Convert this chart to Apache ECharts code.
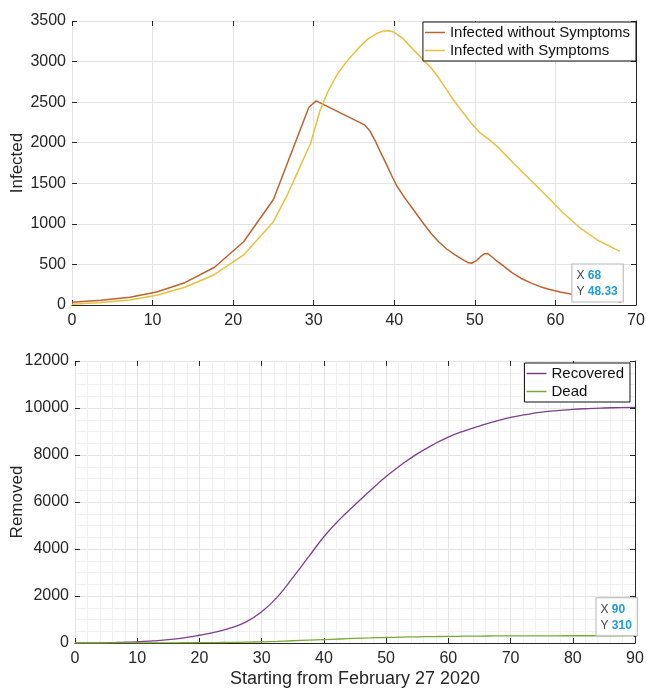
<!DOCTYPE html>
<html>
<head>
<meta charset="utf-8">
<script src="https://cdn.jsdelivr.net/npm/echarts@6/dist/echarts.min.js"></script>
<style>html,body{margin:0;padding:0;background:#fff;}#c{width:647px;height:691px;}</style>
</head>
<body>
<div id="c"></div>
<script>
// ---- Top panel data (days since Feb 27 2020) ----
const noSympDays = [0,3.6,7.2,10.5,14,17.7,21.3,25,29.4,30.3,36.3,37,37.7,38.3,39,39.7,40.3,41.3,42.4,43.5,44.5,45.5,46.5,47.5,48.5,49.1,49.6,50.1,50.7,51.2,51.6,52.1,52.7,53.3,54,54.6,55.7,57,58.1,59.3,60.6,61.7,62.7,64,65.5,67,68];
const noSympVals = [35,58,95,160,275,465,780,1300,2437,2515,2220,2140,2010,1880,1740,1590,1470,1320,1171,1020,890,780,690,620,560,525,515,540,595,632,635,595,545,500,445,400,330,270,226,190,160,138,120,100,80,62,48.33];
const sympDays = [0,3.6,7.2,10.5,14,17.6,21.3,25,26.7,28.3,29.6,30.8,31.8,32.9,34,35.4,36.6,37.9,38.7,39.4,39.9,41,42.4,43.5,44.5,45.5,46.5,47.5,48.6,49.6,50.7,51.8,52.8,53.8,54.8,56.9,59,61,63.1,65.2,68];
const sympVals = [10,30,62,120,218,370,617,1027,1350,1705,1990,2404,2640,2840,2990,3150,3270,3350,3378,3380,3365,3290,3144,3030,2930,2800,2651,2505,2363,2235,2117,2035,1952,1850,1747,1541,1335,1130,946,801,660];

// ---- Bottom panel data ----
const removedDays = [0,2.5,5,7.5,10,12.5,15,17.5,20,22.5,25,27.5,30,32.5,35,37.5,40,42.5,45,47.5,50,52.5,55,57.5,60,62.5,65,67.5,70,72.5,75,77.5,80,82.5,85,87.5,90];
const recovered = [0,5,12,28,50,90,140,220,330,460,640,900,1330,1950,2780,3650,4520,5250,5880,6500,7080,7600,8050,8430,8760,9020,9230,9430,9600,9720,9820,9890,9940,9975,10000,10018,10030];
const dead = [0,0,1,2,3,5,7,10,13,18,25,36,50,70,95,120,145,170,195,215,235,250,262,272,282,289,295,299,302,304,306,307,308,308.5,309,309.5,310];

const topXTicks = {min:0, max:70, interval:10};
const topYTicks = {min:0, max:3500, interval:500};
const botXTicks = {min:0, max:90, interval:10};
const botYTicks = {min:0, max:12000, interval:2000};

const pairs = (xs, ys) => xs.map((x,i)=>[x, ys[i]]);

const FONT = 'Liberation Sans, Arial, sans-serif';
const TXT = '#262626';
const GRID = '#e3e3e3';
const MINOR = '#f0f0f0';

function baseX(grid, t, opts) {
  return Object.assign({
    type:'value', gridIndex:grid, min:t.min, max:t.max, interval:t.interval,
    axisLine:{show:true, onZero:false, lineStyle:{color:TXT, width:1}},
    axisTick:{show:true, inside:true, length:5, lineStyle:{color:TXT}},
    axisLabel:{color:TXT, fontSize:16, fontFamily:FONT, margin:8, formatter:v=>String(v)},
    splitLine:{show:true, lineStyle:{color:GRID, width:1}}
  }, opts||{});
}
function baseY(grid, t, opts) {
  return Object.assign({
    type:'value', gridIndex:grid, min:t.min, max:t.max, interval:t.interval,
    axisLine:{show:false},
    axisTick:{show:true, inside:true, length:5, lineStyle:{color:TXT}},
    axisLabel:{color:TXT, fontSize:16, fontFamily:FONT, margin:6, formatter:v=>String(v)},
    splitLine:{show:true, lineStyle:{color:GRID, width:1}}
  }, opts||{});
}
function mirror(grid, t, pos) {
  return {
    type:'value', gridIndex:grid, min:t.min, max:t.max, interval:t.interval, position:pos,
    axisLine:{show: pos==='right', onZero:false, lineStyle:{color: TXT, width:1}},
    axisTick:{show:true, inside:true, length:5, lineStyle:{color:TXT}},
    axisLabel:{show:false}, splitLine:{show:false}
  };
}

function tip(x, y, off) {
  return {
    symbol:'circle', symbolSize:3, itemStyle:{color:'#111'},
    data:[{coord:[x,y], value:y}],
    label:{
      show:true, position:off,
      backgroundColor:'rgba(255,255,255,0.95)', borderColor:'#b8b8b8', borderWidth:1,
      padding:[3,5,2,4],
      formatter: () => '{k|X} {v|' + x + '}\n{k|Y} {v|' + y + '}',
      rich:{
        k:{color:'#444', fontSize:12, fontFamily:FONT, lineHeight:16},
        v:{color:'#1f9ce0', fontSize:12, fontWeight:'bold', fontFamily:FONT, lineHeight:16}
      }
    }
  };
}

const chart = echarts.init(document.getElementById('c'), null, {renderer:'canvas'});
chart.setOption({
  animation:false,
  backgroundColor:'#fff',
  grid:[
    {left:72, right:11, top:21, height:284, containLabel:false, outerBoundsMode:'none'},
    {left:75, right:12, top:361, height:282, containLabel:false, outerBoundsMode:'none'}
  ],
  legend:[
    {
      data:['Infected without Symptoms','Infected with Symptoms'],
      orient:'vertical', right:11, top:22, icon:'rect', itemWidth:20, itemHeight:1.5, itemGap:3,
      padding:[3,6,3,2], borderColor:'#111', borderWidth:1, backgroundColor:'#fff',
      textStyle:{color:'#111', fontSize:15, fontFamily:FONT}
    },
    {
      data:['Recovered','Dead'],
      orient:'vertical', right:17, top:363, icon:'rect', itemWidth:20, itemHeight:1.5, itemGap:3,
      padding:[3,6,3,2], borderColor:'#111', borderWidth:1, backgroundColor:'#fff',
      textStyle:{color:'#111', fontSize:15, fontFamily:FONT}
    }
  ],
  xAxis:[
    baseX(0, topXTicks),
    mirror(0, topXTicks, 'top'),
    baseX(1, botXTicks, {
      name:'Starting from February 27 2020', nameLocation:'middle', nameGap:27, nameMoveOverlap:false,
      nameTextStyle:{color:TXT, fontSize:18, fontFamily:FONT},
      minorTick:{show:true, splitNumber:5, length:0},
      minorSplitLine:{show:true, lineStyle:{color:MINOR, width:1}}
    }),
    mirror(1, botXTicks, 'top')
  ],
  yAxis:[
    baseY(0, topYTicks, {
      name:'Infected', nameLocation:'middle', nameGap:46, nameMoveOverlap:false,
      nameTextStyle:{color:TXT, fontSize:17, fontFamily:FONT}
    }),
    mirror(0, topYTicks, 'right'),
    baseY(1, botYTicks, {
      name:'Removed', nameLocation:'middle', nameGap:49, nameMoveOverlap:false,
      nameTextStyle:{color:TXT, fontSize:17, fontFamily:FONT},
      minorTick:{show:true, splitNumber:4, length:0},
      minorSplitLine:{show:true, lineStyle:{color:MINOR, width:1}}
    }),
    mirror(1, botYTicks, 'right')
  ],
  series:[
    {
      name:'Infected without Symptoms', type:'line', xAxisIndex:0, yAxisIndex:0,
      data:pairs(noSympDays, noSympVals), showSymbol:false, symbol:'none', smooth:false,
      lineStyle:{color:'#c0622f', width:1.5}, itemStyle:{color:'#c0622f'},
      markPoint: tip(noSympDays[noSympDays.length-1], noSympVals[noSympVals.length-1], [-46,-35])
    },
    {
      name:'Infected with Symptoms', type:'line', xAxisIndex:0, yAxisIndex:0,
      data:pairs(sympDays, sympVals), showSymbol:false, symbol:'none', smooth:false,
      lineStyle:{color:'#e8c13f', width:1.5}, itemStyle:{color:'#e8c13f'}
    },
    {
      name:'Recovered', type:'line', xAxisIndex:2, yAxisIndex:2,
      data:pairs(removedDays, recovered), showSymbol:false, symbol:'none', smooth:0.5,
      lineStyle:{color:'#7e3f8e', width:1.3}, itemStyle:{color:'#7e3f8e'}
    },
    {
      name:'Dead', type:'line', xAxisIndex:2, yAxisIndex:2,
      data:pairs(removedDays, dead), showSymbol:false, symbol:'none', smooth:0.5,
      lineStyle:{color:'#77ac30', width:1.3}, itemStyle:{color:'#77ac30'},
      markPoint: tip(removedDays[removedDays.length-1], dead[dead.length-1], [-37,-36])
    }
  ]
});
</script>
</body>
</html>
